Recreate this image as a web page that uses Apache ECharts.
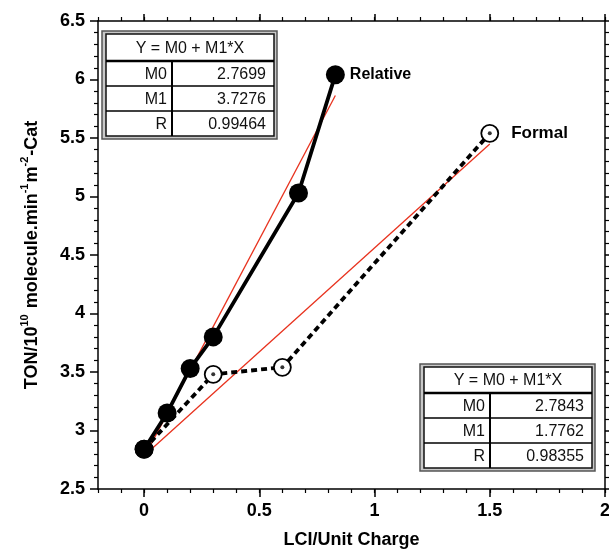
<!DOCTYPE html>
<html>
<head>
<meta charset="utf-8">
<script src="https://cdn.jsdelivr.net/npm/echarts@6/dist/echarts.min.js"></script>
<style>html,body{margin:0;padding:0;background:#fff;}#c{width:609px;height:551px;}</style>
</head>
<body>
<div id="c"></div>
<script>
// ---- data ----
const relX = [0, 0.1, 0.2, 0.3, 0.67, 0.83];
const relY = [2.84, 3.15, 3.53, 3.80, 5.03, 6.04];
const forX = [0, 0.3, 0.6, 1.5];
const forY = [2.84, 3.48, 3.54, 5.54];
const seriesNames = ['Relative', 'Formal'];
// regression tables
const tableLabels = ['M0', 'M1', 'R'];
const relFitText = ['2.7699', '3.7276', '0.99464'];
const forFitText = ['2.7843', '1.7762', '0.98355'];
const relFitRange = [0, 0.83];
const forFitRange = [0, 1.5];
const xMajorTicks = [0, 0.5, 1, 1.5, 2];
const xRange = [-0.2, 2];
const yRange = [2.5, 6.5];

const FONT = '"Liberation Sans", Arial, sans-serif';

function fitLine(range, txt) {
  const m0 = parseFloat(txt[0]), m1 = parseFloat(txt[1]);
  return range.map(x => [x, m0 + m1 * x]);
}
function pts(xs, ys, label, dist, fs) {
  return xs.map((x, i) => {
    if (i === xs.length - 1) {
      return {value: [x, ys[i]], label: {show: true, formatter: label, position: 'right', distance: dist,
        fontFamily: FONT, fontWeight: 'bold', fontSize: fs, color: '#000'}};
    }
    return [x, ys[i]];
  });
}

function table(ox, oy, hdrH, rowH, colX, txt) {
  const w = 175;
  const innerX = ox + 4, innerY = oy + 3, innerW = w - 7;
  const h = 3 + hdrH + rowH * 3 + 3;
  const els = [];
  const f = '16px ' + FONT;
  els.push({type: 'rect', shape: {x: ox, y: oy, width: w, height: h},
    style: {fill: '#c8c8c8', stroke: '#555', lineWidth: 1.5}, z: 100});
  els.push({type: 'rect', shape: {x: innerX, y: innerY, width: innerW, height: hdrH + rowH * 3},
    style: {fill: '#fff', stroke: '#111', lineWidth: 1.5}, z: 101});
  els.push({type: 'text', x: innerX + innerW / 2, y: innerY + hdrH / 2 + 1,
    style: {text: 'Y = M0 + M1*X', font: f, fill: '#111', align: 'center', verticalAlign: 'middle'}, z: 102});
  els.push({type: 'line', shape: {x1: innerX, y1: innerY + hdrH, x2: innerX + innerW, y2: innerY + hdrH},
    style: {stroke: '#000', lineWidth: 2.5}, z: 102});
  els.push({type: 'line', shape: {x1: colX, y1: innerY + hdrH, x2: colX, y2: innerY + hdrH + rowH * 3},
    style: {stroke: '#000', lineWidth: 2}, z: 102});
  for (let i = 0; i < 3; i++) {
    const ry = innerY + hdrH + rowH * i;
    if (i > 0) els.push({type: 'line', shape: {x1: innerX, y1: ry, x2: innerX + innerW, y2: ry},
      style: {stroke: '#000', lineWidth: 1.5}, z: 102});
    els.push({type: 'text', x: colX - 5, y: ry + rowH / 2 + 1,
      style: {text: tableLabels[i], font: f, fill: '#111', align: 'right', verticalAlign: 'middle'}, z: 103});
    els.push({type: 'text', x: innerX + innerW - 8, y: ry + rowH / 2 + 1,
      style: {text: txt[i], font: f, fill: '#111', align: 'right', verticalAlign: 'middle'}, z: 103});
  }
  return els;
}

const chart = echarts.init(document.getElementById('c'), null, {renderer: 'canvas'});
const axisLine = {show: true, onZero: false, lineStyle: {color: '#000', width: 1.5}};
const lblStyle = {fontFamily: FONT, fontWeight: 'bold', fontSize: 18, color: '#000'};

const option = {
  backgroundColor: '#fff',
  animation: false,
  grid: {left: 98, right: 4, top: 21, bottom: 62, containLabel: false, outerBoundsMode: 'none'},
  xAxis: [
    {type: 'value', position: 'bottom', min: xRange[0], max: xRange[1],
      name: 'LCI/Unit Charge', nameLocation: 'middle', nameGap: 42,
      nameTextStyle: {fontFamily: FONT, fontWeight: 'bold', fontSize: 18, color: '#000'},
      axisLine: axisLine, splitLine: {show: false},
      axisTick: {show: true, customValues: xMajorTicks, length: 8, inside: false, lineStyle: {color: '#000', width: 1.5}},
      axisLabel: Object.assign({customValues: xMajorTicks, margin: 13, showMinLabel: true, showMaxLabel: true}, lblStyle)},
    {type: 'value', position: 'bottom', min: xRange[0], max: xRange[1], interval: 0.1,
      axisLine: {show: false}, splitLine: {show: false}, axisLabel: {show: false},
      axisTick: {show: true, length: 4, lineStyle: {color: '#000', width: 1.2}}},
    {type: 'value', position: 'top', min: xRange[0], max: xRange[1],
      axisLine: axisLine, splitLine: {show: false}, axisLabel: {show: false},
      axisTick: {show: true, customValues: xMajorTicks, length: 7, lineStyle: {color: '#000', width: 1.5}}},
    {type: 'value', position: 'top', min: xRange[0], max: xRange[1], interval: 0.1,
      axisLine: {show: false}, splitLine: {show: false}, axisLabel: {show: false},
      axisTick: {show: true, length: 4, lineStyle: {color: '#000', width: 1.2}}}
  ],
  yAxis: [
    {type: 'value', position: 'left', min: yRange[0], max: yRange[1], interval: 0.5,
      name: '{a|TON/10}{s|10}{a| molecule.min}{s|-1}{a|m}{s|-2}{a|-Cat}',
      nameLocation: 'middle', nameGap: 57,
      nameTextStyle: {rich: {
        a: {fontFamily: FONT, fontWeight: 'bold', fontSize: 18, color: '#000', verticalAlign: 'bottom', lineHeight: 22},
        s: {fontFamily: FONT, fontWeight: 'bold', fontSize: 11, color: '#000', verticalAlign: 'top', lineHeight: 22, padding: [0, 1, 0, 0]}
      }},
      axisLine: axisLine, splitLine: {show: false},
      axisTick: {show: true, length: 8, lineStyle: {color: '#000', width: 1.5}},
      minorTick: {show: true, splitNumber: 5, length: 4, lineStyle: {color: '#000', width: 1.2}},
      axisLabel: Object.assign({margin: 13, showMinLabel: true, showMaxLabel: true}, lblStyle)},
    {type: 'value', position: 'right', min: yRange[0], max: yRange[1], interval: 0.5,
      axisLine: axisLine, splitLine: {show: false}, axisLabel: {show: false},
      axisTick: {show: true, length: 6, lineStyle: {color: '#000', width: 1.5}},
      minorTick: {show: true, splitNumber: 5, length: 4, lineStyle: {color: '#000', width: 1.2}}}
  ],
  series: [
    {name: 'Formal fit', type: 'line', data: fitLine(forFitRange, forFitText), showSymbol: false, symbol: 'none',
      lineStyle: {color: '#e8321e', width: 1.3}, z: 3, silent: true},
    {name: 'Relative fit', type: 'line', data: fitLine(relFitRange, relFitText), showSymbol: false, symbol: 'none',
      lineStyle: {color: '#e8321e', width: 1.3}, z: 3, silent: true},
    {name: seriesNames[1], type: 'line', data: pts(forX, forY, seriesNames[1], 12, 17),
      symbol: 'circle', symbolSize: 17,
      itemStyle: {color: '#fff', borderColor: '#000', borderWidth: 1.8},
      lineStyle: {color: '#000', width: 3.8, type: [6, 4]}, z: 4},
    {name: 'Formal centre', type: 'scatter', data: forX.map((x, i) => [x, forY[i]]),
      symbol: 'circle', symbolSize: 4, itemStyle: {color: '#000'}, z: 5, silent: true},
    {name: seriesNames[0], type: 'line', data: pts(relX, relY, seriesNames[0], 5, 16),
      symbol: 'circle', symbolSize: 19,
      itemStyle: {color: '#000'},
      lineStyle: {color: '#000', width: 3.8}, z: 6}
  ],
  graphic: [].concat(table(102, 31, 27, 25, 172, relFitText), table(420, 364, 26, 25, 490, forFitText))
};
chart.setOption(option);
</script>
</body>
</html>
